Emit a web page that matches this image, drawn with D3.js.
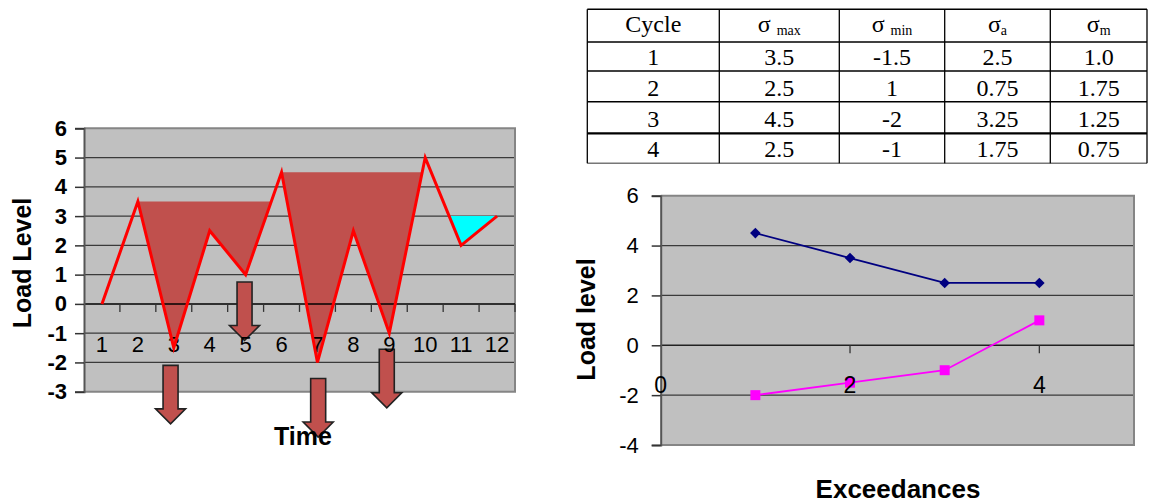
<!DOCTYPE html>
<html><head><meta charset="utf-8">
<script src="https://cdn.jsdelivr.net/npm/d3@7"></script>
<style>body{margin:0;background:#fff}svg{display:block}</style>
</head><body>
<svg id="c" width="1152" height="504"></svg>
<script>
// ---- data ----
const times = [1,2,3,4,5,6,7,8,9,10,11,12];
const loads = [0,3.5,-1.5,2.5,1,4.5,-2,2.5,-1,5,2,3];
const fillStart = [2,6,10];
const fillEnd = [6,10,12];
const fillLevel = [3.5,4.5,3];
const arrowTime = [2.91,4.97,7.02,8.93];
const arrowTop = [-2.1,0.75,-2.55,-1.55];
const arrowTip = [-4.1,-1.25,-4.55,-3.55];
const leftYTicks = [-3,-2,-1,0,1,2,3,4,5,6];

const tableHeader = ["Cycle","σ|max","σ|min","σ|a","σ|m"];
const cycles = ["1","2","3","4"];
const sigmaMax = ["3.5","2.5","4.5","2.5"];
const sigmaMin = ["-1.5","1","-2","-1"];
const sigmaA = ["2.5","0.75","3.25","1.75"];
const sigmaM = ["1.0","1.75","1.25","0.75"];

const exceed = [1,2,3,4];
const peakLevels = [4.5,3.5,2.5,2.5];
const valleyLevels = [-2,-1.5,-1,1];
const rightYTicks = [-4,-2,0,2,4,6];
const rightXTicks = [0,2,4];

const svg = d3.select("#c");
const SANS = "'Liberation Sans', Arial, sans-serif";
const SERIF = "'Liberation Serif', 'Times New Roman', serif";
const plain = d => String(d);

// ---- left chart ----
const xL = d3.scaleLinear().domain([0.5,12.5]).range([84,515]);
const yL = d3.scaleLinear().domain([-3,6]).range([391.7,128.3]);
const L = svg.append("g");
L.append("rect").attr("x",84).attr("y",yL(6)).attr("width",515-84).attr("height",yL(-3)-yL(6)).attr("fill","#c0c0c0");
L.selectAll("line.g").data(leftYTicks.filter(v=>v!==0&&v!==6&&v!==-3)).join("line")
  .attr("x1",84).attr("x2",515).attr("y1",d=>yL(d)).attr("y2",d=>yL(d))
  .attr("stroke","#3a3a3a").attr("stroke-width",1.3);
L.append("path").attr("d",`M84,${yL(6)}H515V${yL(-3)}H84`).attr("fill","none").attr("stroke","#858585").attr("stroke-width",2);

function regionPts(s,e,lev){
  const pts=[];
  for(let i=s;i<e;i++){
    const v0=loads[i-1], v1=loads[i];
    if(v0<=lev) pts.push([i,v0]);
    if((v0-lev)*(v1-lev)<0){ const t=(lev-v0)/(v1-v0); pts.push([i+t,lev]); }
  }
  if(loads[e-1]<=lev) pts.push([e,loads[e-1]]);
  return pts;
}
const fillColors = ["#c0504d","#c0504d","#00ffff"];
fillStart.forEach((s,k)=>{
  const pts = regionPts(s,fillEnd[k],fillLevel[k]);
  L.append("path").attr("d", d3.line().x(d=>xL(d[0])).y(d=>yL(d[1]))(pts)+"Z")
   .attr("fill",fillColors[k]);
});

L.append("line").attr("x1",84).attr("x2",515).attr("y1",yL(0)).attr("y2",yL(0)).attr("stroke","#000").attr("stroke-width",1.5);
L.selectAll("line.t").data(times).join("line")
  .attr("x1",d=>xL(d+0.5)).attr("x2",d=>xL(d+0.5)).attr("y1",yL(0)).attr("y2",yL(0)+8)
  .attr("stroke","#333").attr("stroke-width",1.3);

const ayL = L.append("g").attr("transform","translate(84,0)")
  .call(d3.axisLeft(yL).tickValues(leftYTicks).tickSize(9).tickPadding(8).tickFormat(plain));
ayL.select(".domain").attr("stroke","#555").attr("stroke-width",2);
ayL.selectAll(".tick line").attr("stroke","#333").attr("stroke-width",1.5);
ayL.selectAll("text").attr("font-family",SANS).attr("font-size",22).attr("font-weight","bold").attr("fill","#000");

function arrowPath(x,top,tip){
  const hs=7.5, hw=15, hh=15;
  return `M${x-hs},${top}H${x+hs}V${tip-hh}H${x+hw}L${x},${tip}L${x-hw},${tip-hh}H${x-hs}Z`;
}
arrowTime.forEach((t,k)=>{
  L.append("path").attr("d",arrowPath(xL(t),yL(arrowTop[k]),yL(arrowTip[k])))
   .attr("fill","#c0504d").attr("stroke","#222").attr("stroke-width",1.6).attr("stroke-linejoin","miter");
});

L.selectAll("text.xl").data(times).join("text")
  .attr("x",d=>xL(d)).attr("y",352).attr("text-anchor","middle")
  .attr("font-family",SANS).attr("font-size",22).attr("fill","#000").text(d=>d);

L.append("path").datum(times.map((t,i)=>[t,loads[i]]))
  .attr("d",d3.line().x(d=>xL(d[0])).y(d=>yL(d[1])))
  .attr("fill","none").attr("stroke","#ff0000").attr("stroke-width",3).attr("stroke-linejoin","miter");

L.append("text").attr("transform","translate(31,263) rotate(-90)").attr("text-anchor","middle")
  .attr("font-family",SANS).attr("font-size",25).attr("font-weight","bold").text("Load Level");
L.append("text").attr("x",303).attr("y",445).attr("text-anchor","middle")
  .attr("font-family",SANS).attr("font-size",25).attr("font-weight","bold").text("Time");

// ---- table ----
const T = svg.append("g");
const colX = [587.3,719.3,839.3,944.7,1050.3,1147];
const rowY = [9.3,42,71,101.7,133.3,163.3];
rowY.forEach((y,i)=>{
  T.append("line").attr("x1",colX[0]).attr("x2",colX[5]).attr("y1",y).attr("y2",y)
   .attr("stroke", i===5?"#777":"#000").attr("stroke-width", i===4?2.2:1.4);
});
colX.forEach(x=>{
  T.append("line").attr("x1",x).attr("x2",x).attr("y1",rowY[0]).attr("y2",rowY[5]).attr("stroke","#000").attr("stroke-width",1.3);
});
const colC = colX.slice(0,5).map((x,i)=>(x+colX[i+1])/2);
tableHeader.forEach((h,i)=>{
  const tx = T.append("text").attr("x",colC[i]).attr("y",rowY[1]-10).attr("text-anchor","middle")
    .attr("font-family",SERIF).attr("font-size",24).attr("fill","#000");
  if(h.includes("|")){
    const [a,b]=h.split("|");
    tx.append("tspan").text(a);
    tx.append("tspan").attr("font-size",14).attr("dy",3).attr("dx", b.length>1?6:0).text(b);
  } else tx.text(h);
});
const cols = [cycles,sigmaMax,sigmaMin,sigmaA,sigmaM];
cols.forEach((arr,c)=>{
  arr.forEach((v,r)=>{
    T.append("text").attr("x",colC[c]).attr("y",rowY[r+2]-6).attr("text-anchor","middle")
     .attr("font-family",SERIF).attr("font-size",24).attr("fill","#000").text(v);
  });
});

// ---- right chart ----
const xR = d3.scaleLinear().domain([0,5]).range([660.7,1134]);
const yR = d3.scaleLinear().domain([-4,6]).range([445,195.7]);
const R = svg.append("g");
R.append("rect").attr("x",xR(0)).attr("y",yR(6)).attr("width",xR(5)-xR(0)).attr("height",yR(-4)-yR(6)).attr("fill","#c0c0c0");
R.selectAll("line.g").data(rightYTicks.filter(v=>v!==0&&v!==6&&v!==-4)).join("line")
  .attr("x1",xR(0)).attr("x2",xR(5)).attr("y1",d=>yR(d)).attr("y2",d=>yR(d))
  .attr("stroke","#3a3a3a").attr("stroke-width",1.3);
R.append("path").attr("d",`M${xR(0)},${yR(6)}H${xR(5)}V${yR(-4)}H${xR(0)}`).attr("fill","none").attr("stroke","#858585").attr("stroke-width",2);
R.append("line").attr("x1",xR(0)).attr("x2",xR(5)).attr("y1",yR(0)).attr("y2",yR(0)).attr("stroke","#222").attr("stroke-width",1.4);
R.selectAll("line.t").data(rightXTicks.filter(v=>v>0)).join("line")
  .attr("x1",d=>xR(d)).attr("x2",d=>xR(d)).attr("y1",yR(0)).attr("y2",yR(0)+8)
  .attr("stroke","#333").attr("stroke-width",1.3);
const ayR = R.append("g").attr("transform",`translate(${xR(0)},0)`)
  .call(d3.axisLeft(yR).tickValues(rightYTicks).tickSize(9).tickPadding(13).tickFormat(plain));
ayR.select(".domain").attr("stroke","#555").attr("stroke-width",2);
ayR.selectAll(".tick line").attr("stroke","#333").attr("stroke-width",1.5);
ayR.selectAll("text").attr("font-family",SANS).attr("font-size",22).attr("fill","#000");

const lineR = d3.line().x(d=>xR(d[0])).y(d=>yR(d[1]));
R.append("path").datum(exceed.map((x,i)=>[x,peakLevels[i]])).attr("d",lineR)
  .attr("fill","none").attr("stroke","#000080").attr("stroke-width",1.8);
R.append("path").datum(exceed.map((x,i)=>[x,valleyLevels[i]])).attr("d",lineR)
  .attr("fill","none").attr("stroke","#ff00ff").attr("stroke-width",1.8);
R.selectAll("path.dia").data(exceed).join("path")
  .attr("d",d3.symbol(d3.symbolSquare,56)())
  .attr("transform",(d,i)=>`translate(${xR(d)},${yR(peakLevels[i])}) rotate(45)`)
  .attr("fill","#000080");
R.selectAll("path.sq").data(exceed).join("path")
  .attr("d",d3.symbol(d3.symbolSquare,100)())
  .attr("transform",(d,i)=>`translate(${xR(d)},${yR(valleyLevels[i])})`)
  .attr("fill","#ff00ff");

R.selectAll("text.xl").data(rightXTicks).join("text")
  .attr("x",d=>xR(d)).attr("y",393).attr("text-anchor","middle")
  .attr("font-family",SANS).attr("font-size",23).attr("fill","#000").text(d=>d);

R.append("text").attr("transform","translate(595,319.5) rotate(-90)").attr("text-anchor","middle")
  .attr("font-family",SANS).attr("font-size",25).attr("font-weight","bold").text("Load level");
R.append("text").attr("x",898).attr("y",498).attr("text-anchor","middle")
  .attr("font-family",SANS).attr("font-size",26).attr("font-weight","bold").text("Exceedances");
</script>
</body></html>
